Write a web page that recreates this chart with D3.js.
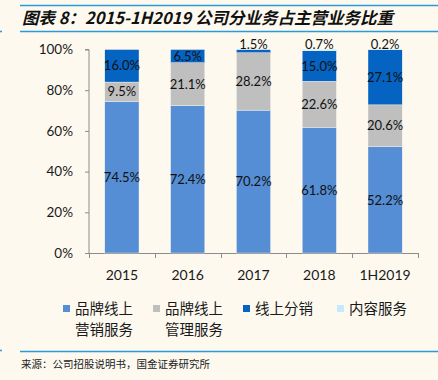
<!DOCTYPE html>
<html>
<head>
<meta charset="utf-8">
<script src="https://cdn.jsdelivr.net/npm/d3@7"></script>
<style>
  body { margin: 0; background: #fdf9ef; }
  svg { display: block; }
</style>
</head>
<body>
<div class="chart"></div>
<script>
// data
var years = ["2015", "2016", "2017", "2018", "1H2019"];
var seriesNames = ["品牌线上营销服务", "品牌线上管理服务", "线上分销", "内容服务"];
var marketing = [74.5, 72.4, 70.2, 61.8, 52.2];
var management = [9.5, 21.1, 28.2, 22.6, 20.6];
var distribution = [16.0, 6.5, 1.5, 15.0, 27.1];
var content = [0, 0, 0, 0.7, 0.2];
var yTicks = [0, 20, 40, 60, 80, 100];

var colors = ["#558ed5", "#bfbfbf", "#0563c1", "#c6e9fb"];
var legendLines = [["品牌线上", "营销服务"], ["品牌线上", "管理服务"], ["线上分销"], ["内容服务"]];

var svgWidth = 438, svgHeight = 380;
var svg = d3.select(".chart").append("svg")
  .attr("width", svgWidth)
  .attr("height", svgHeight);

svg.append("rect").attr("width", svgWidth).attr("height", svgHeight).attr("fill", "#fdf9ef");

// header / footer rules
var ruleColor = "#2b9ad9";
[5.5, 31.5, 351.5].forEach(function(y) {
  svg.append("line").attr("x1", 20).attr("x2", 438).attr("y1", y).attr("y2", y)
    .attr("stroke", ruleColor).attr("stroke-width", 1.5);
});
[31.5, 350.5].forEach(function(y) {
  svg.append("line").attr("x1", 0).attr("x2", 2).attr("y1", y).attr("y2", y)
    .attr("stroke", ruleColor).attr("stroke-width", 1.5);
});

svg.append("text")
  .attr("x", 22).attr("y", 24)
  .attr("font-family", "'Noto Sans CJK SC', sans-serif")
  .attr("font-size", 16.5)
  .attr("font-weight", "bold")
  .attr("font-style", "italic")
  .attr("fill", "#111")
  .text("图表 8：2015-1H2019 公司分业务占主营业务比重");

svg.append("text")
  .attr("x", 21).attr("y", 368)
  .attr("font-family", "'Noto Sans CJK SC', sans-serif")
  .attr("font-size", 10.5)
  .attr("fill", "#222")
  .text("来源：公司招股说明书，国金证券研究所");

// plot
var margin = { left: 89, right: 20, top: 49.5 };
var plotBottom = 253;

var xScale = d3.scaleBand()
  .domain(years)
  .range([margin.left, svgWidth - margin.right])
  .paddingInner(0.48)
  .paddingOuter(0.24);

var yScale = d3.scaleLinear()
  .domain([0, 100])
  .range([plotBottom, margin.top]);

var rows = years.map(function(y, i) {
  return { year: y, a: marketing[i], b: management[i], c: distribution[i], d: content[i] };
});
var stack = d3.stack().keys(["a", "b", "c", "d"]);
var layers = stack(rows);

var axisColor = "#8c8c8c";
var font = "Lato, 'Noto Sans', sans-serif";

// y axis
var yAxis = d3.axisLeft(yScale).tickValues(yTicks).tickSize(4).tickFormat(function(d) { return d + "%"; });
var gy = svg.append("g").attr("transform", "translate(" + margin.left + ",0)").call(yAxis);
gy.select(".domain").attr("stroke", axisColor).attr("d", "M-4," + yScale(100) + "H0V" + plotBottom);
gy.selectAll(".tick line").attr("stroke", axisColor);
gy.selectAll(".tick text").attr("font-family", font).attr("font-size", 13.5).attr("fill", "#1a1a1a").attr("x", -16);

// x axis with ticks on category borders
var step = xScale.step();
var x0 = margin.left, x1 = svgWidth - margin.right;
var gx = svg.append("g");
gx.append("line").attr("x1", x0).attr("x2", x1).attr("y1", plotBottom + 0.5).attr("y2", plotBottom + 0.5).attr("stroke", axisColor);
d3.range(years.length + 1).forEach(function(i) {
  var x = Math.round(x0 + i * (x1 - x0) / years.length) + 0.5;
  gx.append("line").attr("x1", x).attr("x2", x).attr("y1", plotBottom).attr("y2", plotBottom + 5).attr("stroke", axisColor);
});
gx.selectAll("text.xl").data(years).enter().append("text")
  .attr("x", function(d) { return xScale(d) + xScale.bandwidth() / 2; })
  .attr("y", 280)
  .attr("text-anchor", "middle")
  .attr("font-family", font).attr("font-size", 14).attr("fill", "#1a1a1a")
  .text(function(d) { return d; });

// bars
var groups = svg.selectAll("g.layer").data(layers).enter().append("g")
  .attr("fill", function(d, i) { return colors[i]; });
groups.selectAll("rect").data(function(d) { return d; }).enter().append("rect")
  .attr("x", function(d) { return xScale(d.data.year); })
  .attr("width", xScale.bandwidth())
  .attr("y", function(d) { return yScale(d[1]); })
  .attr("height", function(d) { return Math.max(0, yScale(d[0]) - yScale(d[1])); })
  .attr("stroke", "#fdf9ef").attr("stroke-width", 0.4);

// labels
layers.forEach(function(layer) {
  layer.forEach(function(d) {
    var v = d[1] - d[0];
    if (v <= 0) return;
    var v1 = Math.round(v * 10) / 10;
    var y = v1 < 3 ? yScale(d[1]) - 5 : yScale((d[0] + d[1]) / 2);
    svg.append("text")
      .attr("x", xScale(d.data.year) + xScale.bandwidth() / 2)
      .attr("y", y)
      .attr("dy", "0.36em")
      .attr("text-anchor", "middle")
      .attr("font-family", font).attr("font-size", 13).attr("fill", "#111")
      .text(v1.toFixed(1) + "%");
  });
});

// legend
var legendX = [63, 153, 243, 337];
var leg = svg.selectAll("g.leg").data(seriesNames).enter().append("g")
  .attr("transform", function(d, i) { return "translate(" + legendX[i] + ",309)"; });
leg.append("rect").attr("x", 0).attr("y", -4).attr("width", 7).attr("height", 7)
  .attr("fill", function(d, i) { return colors[i]; });
leg.each(function(d, i) {
  var g = d3.select(this);
  legendLines[i].forEach(function(line, j) {
    g.append("text").attr("x", 12).attr("y", j * 21).attr("dy", "0.36em")
      .attr("font-family", "'Noto Sans CJK SC', sans-serif").attr("font-size", 14.5).attr("fill", "#1a1a1a")
      .text(line);
  });
});
</script>
</body>
</html>
